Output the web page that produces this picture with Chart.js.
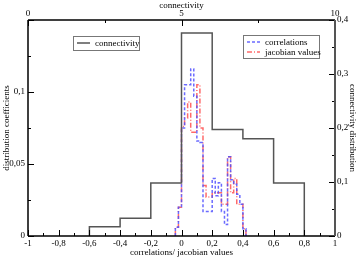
<!DOCTYPE html>
<html>
<head>
<meta charset="utf-8">
<script src="https://cdn.jsdelivr.net/npm/chart.js@4.4.0/dist/chart.umd.min.js"></script>
<style>
    html, body { margin: 0; padding: 0; background: #fff; }
    #wrap { width: 359px; height: 258px; position: relative; }
</style>
</head>
<body>
<div id="wrap"><canvas id="grafico"></canvas></div>
<script>
// histogram bins (left edges) for correlations / jacobian values, last entry closes the last bin
const binEdges = [-0.04, -0.02, 0, 0.02, 0.04, 0.06, 0.08, 0.10, 0.12, 0.14, 0.16, 0.18,
                  0.20, 0.22, 0.24, 0.26, 0.28, 0.30, 0.32, 0.34, 0.36, 0.38, 0.40, 0.42];
const correlations = [0.006, 0.020, 0.075, 0.105, 0.105, 0.116, 0.097, 0.066, 0.065, 0.017, 0.017, 0.017,
                      0.040, 0.028, 0.037, 0.017, 0.008, 0.055, 0.039, 0.036, 0.029, 0.022, 0.005];
const jacobianValues = [0.006, 0.020, 0.076, 0.082, 0.093, 0.072, 0.072, 0.105, 0.075, 0.035, 0.027, 0.027,
                        0.030, 0.030, 0.030, 0.022, 0.022, 0.055, 0.030, 0.040, 0.022, 0.022, 0.005];

// connectivity distribution (right axis), bins of 0.2
const connectivityEdges = [-0.6, -0.4, -0.2, 0, 0.2, 0.4, 0.6, 0.8];
const connectivity = [0.017, 0.033, 0.098, 0.376, 0.197, 0.18, 0.098];

const xTicks = [-1, -0.8, -0.6, -0.4, -0.2, 0, 0.2, 0.4, 0.6, 0.8, 1];
const topTicks = [0, 5, 10];
const leftTicks = [0, 0.05, 0.1];
const rightTicks = [0, 0.1, 0.2, 0.3, 0.4];

const fonte = 'Liberation Serif';

function stepPoints(edges, values) {
    const pts = [{ x: edges[0], y: 0 }];
    values.forEach((v, i) => pts.push({ x: edges[i], y: v }));
    pts.push({ x: edges[values.length], y: 0 });
    return pts;
}

function fmt(v) {
    return String(Number(v.toFixed(3))).replace('.', ',');
}

function fixedTicks(list) {
    return function(axis) { axis.ticks = list.map(v => ({ value: v })); };
}

// ticks pointing inward + frame, xmgrace style
const frameTicks = {
    id: 'frameTicks',
    afterDatasetsDraw(chart) {
        const ctx = chart.ctx;
        const a = chart.chartArea;
        const s = chart.scales;
        ctx.save();
        ctx.strokeStyle = '#000';
        ctx.lineWidth = 1;
        const minor = { x: 0.1, x2: 2.5, y: 0.025, y2: 0.05 };
        Object.keys(minor).forEach(id => {
            const sc = s[id];
            const step = minor[id];
            for (let k = 0; sc.min + k * step <= sc.max + 1e-9; k++) {
                const v = sc.min + k * step;
                const major = Math.abs(v / (step * 2) - Math.round(v / (step * 2))) < 1e-6;
                const len = major ? 6 : 3;
                const p = Math.round(sc.getPixelForValue(v)) + 0.5;
                ctx.beginPath();
                if (id === 'x') { ctx.moveTo(p, a.bottom); ctx.lineTo(p, a.bottom - len); }
                if (id === 'x2') { ctx.moveTo(p, a.top); ctx.lineTo(p, a.top + len); }
                if (id === 'y') { ctx.moveTo(a.left, p); ctx.lineTo(a.left + len, p); }
                if (id === 'y2') { ctx.moveTo(a.right, p); ctx.lineTo(a.right - len, p); }
                ctx.stroke();
            }
        });
        ctx.lineWidth = 1.5;
        ctx.beginPath();
        ctx.moveTo(a.left, a.top); ctx.lineTo(a.right, a.top);
        ctx.moveTo(a.left, a.top); ctx.lineTo(a.left, a.bottom);
        ctx.moveTo(a.left, a.bottom); ctx.lineTo(a.right, a.bottom);
        ctx.stroke();
        ctx.strokeStyle = '#555';
        ctx.lineWidth = 2;
        ctx.beginPath();
        ctx.moveTo(a.right, a.top); ctx.lineTo(a.right, a.bottom);
        ctx.stroke();
        ctx.restore();
    }
};

// two separate legend boxes
const legendBoxes = {
    id: 'legendBoxes',
    afterDraw(chart) {
        const ctx = chart.ctx;
        const a = chart.chartArea;
        const ds = chart.data.datasets;
        const boxes = [
            { x: a.left + 45, y: a.top + 16, w: 66, h: 14, items: [0] },
            { x: a.left + 215, y: a.top + 15, w: 76, h: 23, items: [1, 2] }
        ];
        ctx.save();
        ctx.font = '9px "' + fonte + '"';
        ctx.textBaseline = 'middle';
        boxes.forEach(b => {
            ctx.fillStyle = '#fff';
            ctx.fillRect(b.x, b.y, b.w, b.h);
            ctx.strokeStyle = '#777';
            ctx.lineWidth = 1;
            ctx.setLineDash([]);
            ctx.strokeRect(b.x + 0.5, b.y + 0.5, b.w, b.h);
            b.items.forEach((i, n) => {
                const yy = b.y + 7 + n * 10;
                ctx.strokeStyle = ds[i].borderColor;
                ctx.lineWidth = ds[i].borderWidth;
                ctx.setLineDash(ds[i].borderDash || []);
                ctx.beginPath();
                ctx.moveTo(b.x + 4, yy);
                ctx.lineTo(b.x + 17, yy);
                ctx.stroke();
                ctx.setLineDash([]);
                ctx.fillStyle = '#000';
                ctx.fillText(ds[i].label, b.x + 22, yy + 0.5);
            });
        });
        ctx.restore();
    }
};

const tickFont = { family: fonte, size: 9 };
const titleFont = { family: fonte, size: 9 };
const noGrid = { display: false, drawTicks: false, tickLength: 0 };

const config = {
    type: 'line',
    data: {
        datasets: [
            {
                label: 'connectivity',
                data: stepPoints(connectivityEdges, connectivity),
                xAxisID: 'x', yAxisID: 'y2',
                borderColor: '#555', borderWidth: 1.5,
                stepped: 'before', pointRadius: 0, fill: false
            },
            {
                label: 'correlations',
                data: stepPoints(binEdges, correlations),
                xAxisID: 'x', yAxisID: 'y',
                borderColor: 'rgba(80, 80, 255, 0.85)', borderWidth: 1.5, borderDash: [3, 2],
                stepped: 'before', pointRadius: 0, fill: false
            },
            {
                label: 'jacobian values',
                data: stepPoints(binEdges, jacobianValues),
                xAxisID: 'x', yAxisID: 'y',
                borderColor: 'rgba(255, 80, 80, 0.85)', borderWidth: 1.5, borderDash: [5, 2, 1, 2],
                stepped: 'before', pointRadius: 0, fill: false
            }
        ]
    },
    options: {
        responsive: false,
        animation: false,
        layout: { padding: 0 },
        plugins: { legend: { display: false }, tooltip: { enabled: false } },
        scales: {
            x: {
                type: 'linear', position: 'bottom', min: -1, max: 1,
                afterBuildTicks: fixedTicks(xTicks),
                afterFit: sc => { sc.height = 22; },
                grid: noGrid, border: { display: false },
                ticks: { font: tickFont, color: '#000', padding: 2, maxRotation: 0, autoSkip: false, callback: v => fmt(v) },
                title: { display: true, text: 'correlations/ jacobian values', font: titleFont, color: '#000', padding: { top: 0, bottom: 0 } }
            },
            x2: {
                type: 'linear', position: 'top', min: 0, max: 10,
                afterBuildTicks: fixedTicks(topTicks),
                afterFit: sc => { sc.height = 20; },
                grid: noGrid, border: { display: false },
                ticks: { font: tickFont, color: '#000', padding: 1, maxRotation: 0, autoSkip: false, callback: v => fmt(v) },
                title: { display: true, text: 'connectivity', font: titleFont, color: '#000', padding: { top: 0, bottom: 0 } }
            },
            y: {
                type: 'linear', position: 'left', min: 0, max: 0.15,
                afterBuildTicks: fixedTicks(leftTicks),
                afterFit: sc => { sc.width = 28; },
                grid: noGrid, border: { display: false },
                ticks: { font: tickFont, color: '#000', padding: 3, callback: v => fmt(v) },
                title: { display: true, text: 'distribution coefficients', font: titleFont, color: '#000', padding: { top: 1, bottom: 0 } }
            },
            y2: {
                type: 'linear', position: 'right', min: 0, max: 0.4,
                afterBuildTicks: fixedTicks(rightTicks),
                afterFit: sc => { sc.width = 24; },
                grid: noGrid, border: { display: false },
                ticks: { font: tickFont, color: '#000', padding: 2, callback: v => fmt(v) },
                title: { display: true, text: 'connectivity distribution', font: titleFont, color: '#000', padding: { top: 1, bottom: 0 } }
            }
        }
    },
    plugins: [frameTicks, legendBoxes]
};

const canvas = document.getElementById('grafico');
canvas.width = 359;
canvas.height = 258;
new Chart(canvas, config);
</script>
</body>
</html>
